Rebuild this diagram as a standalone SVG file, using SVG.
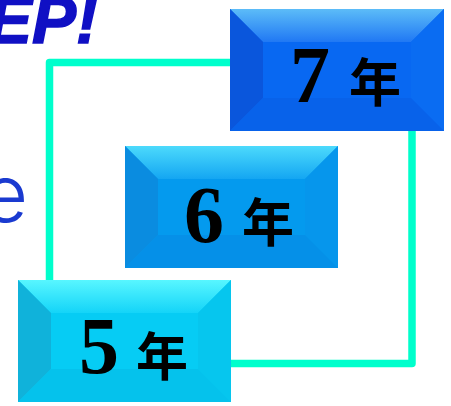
<svg xmlns="http://www.w3.org/2000/svg" width="451" height="406" viewBox="0 0 451 406">
<defs>
<linearGradient id="t7" x1="0" y1="0" x2="0" y2="1"><stop offset="0" stop-color="#5CBCF8"/><stop offset="1" stop-color="#2078F4"/></linearGradient>
<linearGradient id="t6" x1="0" y1="0" x2="0" y2="1"><stop offset="0" stop-color="#4CDAFC"/><stop offset="1" stop-color="#14A6F2"/></linearGradient>
<linearGradient id="t5" x1="0" y1="0" x2="0" y2="1"><stop offset="0" stop-color="#58F6FF"/><stop offset="1" stop-color="#14D4F8"/></linearGradient>
</defs>
<style>
.conn{fill:none;stroke:#00FFCC;stroke-width:7.5;stroke-linejoin:round}
.num{font-family:"Liberation Serif","Times New Roman",serif;font-weight:bold;font-size:80px;fill:#000}
.nen{font-family:"Noto Sans CJK SC","Noto Sans CJK JP",sans-serif;font-weight:bold;font-size:52px;fill:#000}
</style>
<text x="98" y="43" text-anchor="end" font-family="Liberation Sans, Arial, sans-serif" font-weight="bold" font-style="italic" font-size="66" fill="#1010C4" stroke="#1010C4" stroke-width="1.5">EP!</text>
<text x="28" y="222" text-anchor="end" font-family="Inter, Lato, Liberation Sans, sans-serif" font-weight="300" font-size="80" fill="#1A3AD0">e</text>
<g id="connectors">
<path class="conn" d="M230,62.5 H49.5 V280"/>
<path class="conn" d="M412,131 V363.5 H231"/>
</g>
<g id="box7" transform="translate(230,9)">
<rect width="214" height="122" fill="#0868F2"/>
<polygon points="0,0 214,0 181,33 33,33" fill="url(#t7)"/>
<polygon points="0,0 33,33 33,89 0,122" fill="#0A56DC"/>
<polygon points="214,0 181,33 181,89 214,122" fill="#0A6CF2"/>
<polygon points="0,122 214,122 181,89 33,89" fill="#0862EA"/>
<text class="num" x="60" y="93">7</text>
<text class="nen" x="119" y="93">年</text>
</g>
<g id="box6" transform="translate(125,146)">
<rect width="213" height="122" fill="#049AEE"/>
<polygon points="0,0 213,0 180,33 33,33" fill="url(#t6)"/>
<polygon points="0,0 33,33 33,89 0,122" fill="#0A8CE0"/>
<polygon points="213,0 180,33 180,89 213,122" fill="#0696EC"/>
<polygon points="0,122 213,122 180,89 33,89" fill="#0590E8"/>
<text class="num" x="59" y="96">6</text>
<text class="nen" x="117" y="96">年</text>
</g>
<g id="box5" transform="translate(18,280)">
<rect width="213" height="122" fill="#06CCF4"/>
<polygon points="0,0 213,0 180,33 33,33" fill="url(#t5)"/>
<polygon points="0,0 33,33 33,89 0,122" fill="#10B2DA"/>
<polygon points="213,0 180,33 180,89 213,122" fill="#06C6EE"/>
<polygon points="0,122 213,122 180,89 33,89" fill="#05C2EC"/>
<text class="num" x="61" y="93">5</text>
<text class="nen" x="118" y="96">年</text>
</g>
</svg>
